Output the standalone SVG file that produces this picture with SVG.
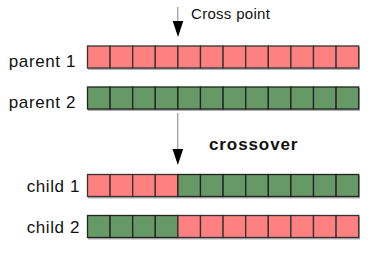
<svg xmlns="http://www.w3.org/2000/svg" width="374" height="257" viewBox="0 0 374 257">
<defs>
<style>
.lbl{font-family:"Liberation Sans",Arial,sans-serif;font-size:17px;fill:#111;letter-spacing:0.6px}
.r{fill:#ff8080;stroke:#333;stroke-width:1.3}
.g{fill:#669966;stroke:#222;stroke-width:1.3}
.sh{fill:#b0b0b0}
.ln{stroke:#aaaaaa;stroke-width:1.5;fill:none}
.hd{fill:#000}
</style>
</defs>
<rect width="374" height="257" fill="#fff"/>
<g id="connectors">
<line class="ln" x1="177.7" y1="7" x2="177.7" y2="22"/>
<polygon class="hd" points="172.7,21 183.3,21 178,37"/>
<line class="ln" x1="177.7" y1="113" x2="177.7" y2="150"/>
<polygon class="hd" points="172.5,149 183.2,149 177.8,165"/>
</g>
<g id="label-cross-point"><text class="lbl" x="191" y="19" style="font-size:15px;letter-spacing:0.3px">Cross point</text></g>
<g id="label-crossover"><text class="lbl" x="209" y="150" style="font-weight:bold;font-size:17px;letter-spacing:0.9px">crossover</text></g>
<g id="parent1">
<text class="lbl" x="76" y="67" text-anchor="end">parent 1</text>
<rect class="sh" x="88" y="47" width="272" height="23"/>
<g class="r">
<rect x="87.5" y="46" width="22.6" height="22"/><rect x="110.1" y="46" width="22.6" height="22"/><rect x="132.7" y="46" width="22.6" height="22"/><rect x="155.3" y="46" width="22.6" height="22"/><rect x="177.9" y="46" width="22.6" height="22"/><rect x="200.5" y="46" width="22.6" height="22"/><rect x="223.1" y="46" width="22.6" height="22"/><rect x="245.7" y="46" width="22.6" height="22"/><rect x="268.3" y="46" width="22.6" height="22"/><rect x="290.9" y="46" width="22.6" height="22"/><rect x="313.5" y="46" width="22.6" height="22"/><rect x="336.1" y="46" width="22.6" height="22"/>
</g>
</g>
<g id="parent2">
<text class="lbl" x="76" y="108" text-anchor="end">parent 2</text>
<rect class="sh" x="88" y="88" width="272" height="23"/>
<g class="g">
<rect x="87.5" y="87" width="22.6" height="22"/><rect x="110.1" y="87" width="22.6" height="22"/><rect x="132.7" y="87" width="22.6" height="22"/><rect x="155.3" y="87" width="22.6" height="22"/><rect x="177.9" y="87" width="22.6" height="22"/><rect x="200.5" y="87" width="22.6" height="22"/><rect x="223.1" y="87" width="22.6" height="22"/><rect x="245.7" y="87" width="22.6" height="22"/><rect x="268.3" y="87" width="22.6" height="22"/><rect x="290.9" y="87" width="22.6" height="22"/><rect x="313.5" y="87" width="22.6" height="22"/><rect x="336.1" y="87" width="22.6" height="22"/>
</g>
</g>
<g id="child1">
<text class="lbl" x="80" y="192" text-anchor="end">child 1</text>
<rect class="sh" x="88" y="175.5" width="272" height="23"/>
<g class="r">
<rect x="87.5" y="174.5" width="22.6" height="22"/><rect x="110.1" y="174.5" width="22.6" height="22"/><rect x="132.7" y="174.5" width="22.6" height="22"/><rect x="155.3" y="174.5" width="22.6" height="22"/>
</g>
<g class="g">
<rect x="177.9" y="174.5" width="22.6" height="22"/><rect x="200.5" y="174.5" width="22.6" height="22"/><rect x="223.1" y="174.5" width="22.6" height="22"/><rect x="245.7" y="174.5" width="22.6" height="22"/><rect x="268.3" y="174.5" width="22.6" height="22"/><rect x="290.9" y="174.5" width="22.6" height="22"/><rect x="313.5" y="174.5" width="22.6" height="22"/><rect x="336.1" y="174.5" width="22.6" height="22"/>
</g>
</g>
<g id="child2">
<text class="lbl" x="80" y="233" text-anchor="end">child 2</text>
<rect class="sh" x="88" y="216.5" width="272" height="23"/>
<g class="g">
<rect x="87.5" y="215.5" width="22.6" height="22"/><rect x="110.1" y="215.5" width="22.6" height="22"/><rect x="132.7" y="215.5" width="22.6" height="22"/><rect x="155.3" y="215.5" width="22.6" height="22"/>
</g>
<g class="r">
<rect x="177.9" y="215.5" width="22.6" height="22"/><rect x="200.5" y="215.5" width="22.6" height="22"/><rect x="223.1" y="215.5" width="22.6" height="22"/><rect x="245.7" y="215.5" width="22.6" height="22"/><rect x="268.3" y="215.5" width="22.6" height="22"/><rect x="290.9" y="215.5" width="22.6" height="22"/><rect x="313.5" y="215.5" width="22.6" height="22"/><rect x="336.1" y="215.5" width="22.6" height="22"/>
</g>
</g>
</svg>
